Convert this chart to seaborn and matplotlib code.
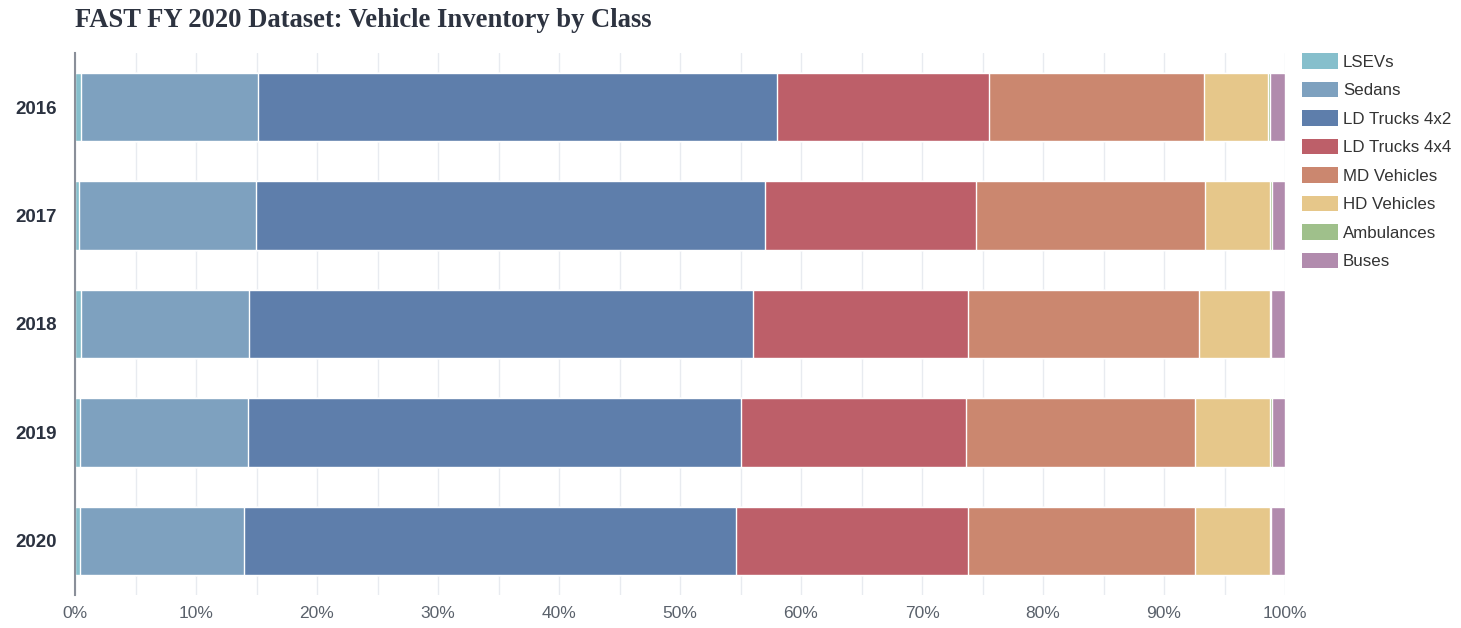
import pandas as pd
import numpy as np
import matplotlib.pyplot as plt
import seaborn as sns
from matplotlib.patches import Patch
from matplotlib.ticker import MultipleLocator, PercentFormatter

# ─────────────────────────────────────────────
# Data (share of inventory, %)
# ─────────────────────────────────────────────
years = ["2016", "2017", "2018", "2019", "2020"]
classes = ["LSEVs", "Sedans", "LD Trucks 4x2", "LD Trucks 4x4",
           "MD Vehicles", "HD Vehicles", "Ambulances", "Buses"]

lsevs = [0.5, 0.35, 0.5, 0.4, 0.4]
sedans = [14.6, 14.6, 13.9, 13.9, 13.6]
ld_4x2 = [42.9, 42.1, 41.6, 40.7, 40.6]
ld_4x4 = [17.5, 17.4, 17.8, 18.6, 19.2]
md_vehicles = [17.8, 18.9, 19.1, 19.0, 18.8]
hd_vehicles = [5.3, 5.4, 5.9, 6.2, 6.2]
ambulances = [0.2, 0.15, 0.05, 0.1, 0.05]
buses = [1.2, 1.1, 1.15, 1.1, 1.15]

colors = ["#86bfcc", "#7ea1bf", "#5e7eab", "#bd5f69",
          "#cb876f", "#e6c78a", "#9fc08b", "#b18bad"]

shares = pd.DataFrame(
    [lsevs, sedans, ld_4x2, ld_4x4, md_vehicles, hd_vehicles, ambulances, buses],
    index=classes, columns=years,
).T
shares = shares.div(shares.sum(axis=1), axis=0) * 100
cum = shares.cumsum(axis=1)

sns.set_theme(style="white")
plt.rcParams["font.family"] = ["Liberation Sans", "DejaVu Sans"]

fig = plt.figure(figsize=(14.61, 6.28), dpi=100)
ax = fig.add_axes([75 / 1461, 1 - 595 / 628, (1285 - 75) / 1461, (595 - 53) / 628])

# stacked bars: draw cumulative totals from the outermost segment inward
for cls, col in reversed(list(zip(classes, colors))):
    d = pd.DataFrame({"year": years, "value": cum[cls].values})
    sns.barplot(data=d, x="value", y="year", orient="h", color=col,
                width=0.63, edgecolor="white", linewidth=1.0,
                saturation=1, ax=ax, zorder=3)

ax.set_xlim(0, 100)
ax.set_ylim(4.5, -0.5)
ax.xaxis.set_major_locator(MultipleLocator(10))
ax.xaxis.set_minor_locator(MultipleLocator(5))
ax.xaxis.set_major_formatter(PercentFormatter(decimals=0))
ax.grid(axis="x", which="both", color="#e8ebf0", linewidth=1, zorder=0)
ax.set_axisbelow(True)

for side in ["top", "right", "bottom"]:
    ax.spines[side].set_visible(False)
ax.spines["left"].set_color("#8a8f99")
ax.spines["left"].set_linewidth(1.5)
ax.spines["left"].set_zorder(10)

ax.tick_params(axis="x", which="both", length=0, pad=8, labelsize=12.5, labelcolor="#5a616b")
ax.tick_params(axis="y", length=0, pad=13, labelsize=13.5, labelcolor="#2b3240")
for t in ax.get_yticklabels():
    t.set_fontweight("bold")
ax.set_xlabel("")
ax.set_ylabel("")

fig.text(75 / 1461, 1 - 27 / 628, "FAST FY 2020 Dataset: Vehicle Inventory by Class",
         family=["Liberation Serif", "DejaVu Serif"], fontweight="bold",
         fontsize=19.2, color="#2d3340", ha="left", va="baseline")

handles = [Patch(facecolor=c, edgecolor="none") for c in colors]
fig.legend(handles, classes, loc="upper left", bbox_to_anchor=(1287 / 1461, 1 - 38 / 628),
           frameon=False, fontsize=12.2, handlelength=2.1, handleheight=1.05,
           handletextpad=0.3, labelspacing=0.7, labelcolor="#333333")

fig.savefig("out.png", dpi=100)
